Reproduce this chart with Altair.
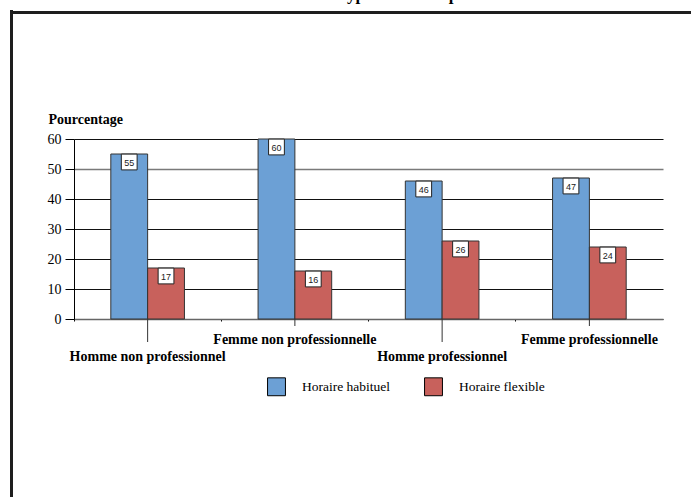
import altair as alt
import pandas as pd

# Survey categories and the two working-time series (percent)
categories = [
    "Homme non professionnel",
    "Femme non professionnelle",
    "Homme professionnel",
    "Femme professionnelle",
]
series = ["Horaire habituel", "Horaire flexible"]
habituel = [55, 60, 46, 47]
flexible = [17, 16, 26, 24]
y_ticks = [0, 10, 20, 30, 40, 50, 60]
colors = ["#6CA0D5", "#C8615C"]

rows = []
for i, cat in enumerate(categories):
    rows.append({"categorie": cat, "serie": series[0], "valeur": habituel[i]})
    rows.append({"categorie": cat, "serie": series[1], "valeur": flexible[i]})
df = pd.DataFrame(rows)
cats_df = pd.DataFrame({"categorie": categories, "rang": list(range(len(categories)))})

W, H = 589, 180
SERIF = "Liberation Serif"

x_enc = alt.X(
    "categorie:N",
    sort=categories,
    scale=alt.Scale(domain=categories, paddingInner=0, paddingOuter=0),
    axis=alt.Axis(
        title=None, labels=False, bandPosition=0, tickSize=2, tickColor="black",
        domainColor="#666666", domainWidth=1.6, grid=False,
    ),
)
y_enc = alt.Y(
    "valeur:Q",
    scale=alt.Scale(domain=[0, 60], nice=False),
    axis=alt.Axis(
        values=y_ticks, labelOverlap=False, title="Pourcentage", titleAngle=0, titleAlign="left",
        titleBaseline="alphabetic", titleX=-26, titleY=-16,
        titleFont=SERIF, titleFontSize=14, titleFontWeight="bold", titleColor="black",
        labelFont=SERIF, labelFontSize=14, labelColor="black", labelPadding=4,
        tickSize=9, tickColor="black", tickWidth=1,
        domainColor="black", domainWidth=1,
        grid=True,
        gridColor={"condition": {"test": "datum.value === 50", "value": "#7a7a7a"}, "value": "#111111"},
        gridWidth={"condition": {"test": "datum.value === 50", "value": 1.6}, "value": 1},
    ),
)
xoff = alt.XOffset("serie:N", sort=series, scale=alt.Scale(domain=series, paddingInner=0, paddingOuter=1))

base = alt.Chart(df)

bars = base.mark_bar(stroke="#333333", strokeWidth=1, opacity=1).encode(
    x=x_enc,
    y=y_enc,
    xOffset=xoff,
    color=alt.Color(
        "serie:N",
        sort=series,
        scale=alt.Scale(domain=series, range=colors),
        legend=alt.Legend(
            title=None, orient="none", direction="horizontal",
            legendX=193, legendY=238,
            symbolType="square", symbolSize=320, symbolStrokeColor="black",
            symbolStrokeWidth=1, symbolOpacity=1,
            labelFont=SERIF, labelFontSize=13.5, labelColor="black",
            labelOffset=16, columnPadding=31, padding=0,
        ),
    ),
)

boxes = base.mark_point(
    shape="square", size=250, filled=True, fill="white", stroke="#222222",
    strokeWidth=1, opacity=1, yOffset=8,
).encode(x=x_enc, y=y_enc, xOffset=xoff)

values = base.mark_text(
    font="Liberation Sans", fontSize=9, color="#222222", baseline="middle", yOffset=8.5,
).encode(x=x_enc, y=y_enc, xOffset=xoff, text="valeur:Q")

labels_base = alt.Chart(cats_df)

# Category labels alternate between two rows, each with its own leader line
ticks_low = labels_base.transform_filter("datum.rang % 2 == 0").mark_rule(
    color="#333333", strokeWidth=1
).encode(x=x_enc, y=alt.value(H), y2=alt.value(H + 23))
ticks_high = labels_base.transform_filter("datum.rang % 2 == 1").mark_rule(
    color="#333333", strokeWidth=1
).encode(x=x_enc, y=alt.value(H), y2=alt.value(H + 7))

text_style = dict(font=SERIF, fontSize=14, fontWeight="bold", color="black",
                  align="center", baseline="alphabetic")
labels_low = labels_base.transform_filter("datum.rang % 2 == 0").mark_text(**text_style).encode(
    x=x_enc, y=alt.value(H + 42), text="categorie:N"
)
labels_high = labels_base.transform_filter("datum.rang % 2 == 1").mark_text(**text_style).encode(
    x=x_enc, y=alt.value(H + 24.5), text="categorie:N"
)

# Page frame and the heading that runs off the top edge
one = alt.Data(values=[{}])
frame_left = alt.Chart(one).mark_rule(color="#1e1e1e", strokeWidth=3).encode(
    x=alt.value(-62.5), y=alt.value(-129), y2=alt.value(H + 180)
)
frame_top = alt.Chart(one).mark_rule(color="#1e1e1e", strokeWidth=3).encode(
    x=alt.value(-64), x2=alt.value(W + 30), y=alt.value(-126.5)
)
heading = alt.Chart(one).mark_text(
    font=SERIF, fontSize=17, fontWeight="bold", color="black",
    align="left", baseline="alphabetic",
).encode(x=alt.value(263), y=alt.value(-139), text=alt.value("Type d'horaire par sexe"))

chart = alt.layer(
    bars, boxes, values, ticks_low, ticks_high, labels_low, labels_high,
    frame_left, frame_top, heading,
).properties(
    width=W, height=H,
    autosize=alt.AutoSizeParams(type="none"),
    padding={"left": 74, "top": 139, "right": 28, "bottom": 178},
    background="white",
).configure_view(stroke=None)

chart.save("out.html", embed_options={"renderer": "svg", "actions": False})
